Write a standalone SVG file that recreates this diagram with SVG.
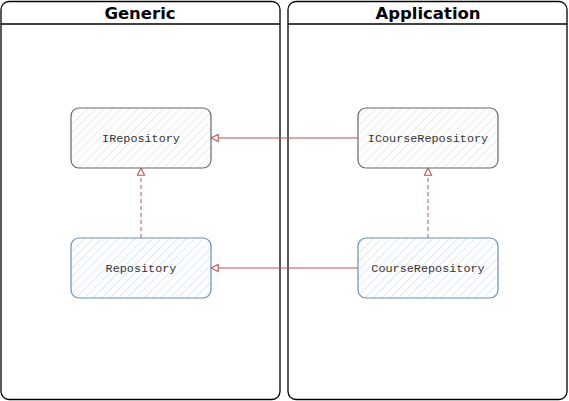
<svg xmlns="http://www.w3.org/2000/svg" width="569" height="401" viewBox="0 0 569 401">
<style>
.cont{fill:#fff;stroke:#000;stroke-width:1.3}
.hdr{fill:none;stroke:#000;stroke-width:1.3}
.title{font-family:"DejaVu Sans","Liberation Sans",sans-serif;font-weight:bold;font-size:16.5px;fill:#000;text-anchor:middle}
.grey{fill:url(#hg);stroke:#666;stroke-width:1.2}
.blue{fill:url(#hb);stroke:#6c8ebf;stroke-width:1.2}
.lbl{font-family:"Liberation Mono","Courier New",monospace;font-size:11.8px;fill:#333;text-anchor:middle}
.edge{fill:none;stroke:#b85450;stroke-width:1}
.dash{stroke-dasharray:4 3}
</style>
<defs>
<pattern id="hg" patternUnits="userSpaceOnUse" width="6" height="6" patternTransform="rotate(45)">
<rect width="6" height="6" fill="#fff"/>
<line x1="0" y1="0" x2="0" y2="6" stroke="#e6e6e6" stroke-width="1.5"/>
</pattern>
<pattern id="hb" patternUnits="userSpaceOnUse" width="6" height="6" patternTransform="rotate(45)">
<rect width="6" height="6" fill="#fff"/>
<line x1="0" y1="0" x2="0" y2="6" stroke="#dae8fc" stroke-width="2"/>
</pattern>
<marker id="tri" viewBox="0 0 10 10" refX="9" refY="5" markerWidth="9" markerHeight="9" orient="auto" markerUnits="userSpaceOnUse">
<path d="M1,1 L9,5 L1,9 Z" fill="#fff" stroke="#b85450" stroke-width="1.2"/>
</marker>
</defs>

<g id="generic">
<rect class="cont" x="1" y="1.5" width="279" height="398" rx="8"/>
<line class="hdr" x1="1" y1="24" x2="280" y2="24"/>
<text class="title" x="140" y="19">Generic</text>
</g>
<g id="application">
<rect class="cont" x="288" y="1.5" width="279" height="398" rx="8"/>
<line class="hdr" x1="288" y1="24" x2="567" y2="24"/>
<text class="title" x="428" y="19">Application</text>
</g>

<g id="edges">
<line class="edge" x1="358" y1="138" x2="211" y2="138" marker-end="url(#tri)"/>
<line class="edge" x1="358" y1="268" x2="211" y2="268" marker-end="url(#tri)"/>
<line class="edge dash" x1="141" y1="238" x2="141" y2="168" marker-end="url(#tri)"/>
<line class="edge dash" x1="428" y1="238" x2="428" y2="168" marker-end="url(#tri)"/>
</g>

<g id="IRepository">
<rect class="grey" x="71" y="108" width="140" height="60" rx="8"/>
<text class="lbl" x="141" y="142">IRepository</text>
</g>
<g id="ICourseRepository">
<rect class="grey" x="358" y="108" width="140" height="60" rx="8"/>
<text class="lbl" x="428" y="142">ICourseRepository</text>
</g>
<g id="Repository">
<rect class="blue" x="71" y="238" width="140" height="60" rx="8"/>
<text class="lbl" x="141" y="272">Repository</text>
</g>
<g id="CourseRepository">
<rect class="blue" x="358" y="238" width="140" height="60" rx="8"/>
<text class="lbl" x="428" y="272">CourseRepository</text>
</g>
</svg>
